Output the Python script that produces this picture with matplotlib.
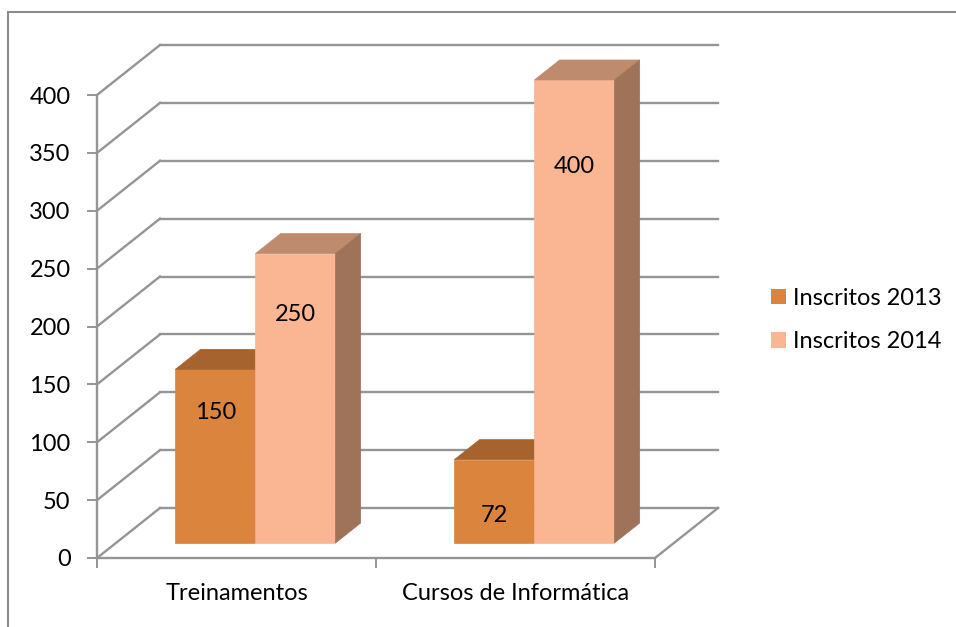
import matplotlib.pyplot as plt
from matplotlib.patches import Polygon, Patch, Rectangle

plt.rcParams["font.family"] = ["Lato", "DejaVu Sans"]

# ---- data ----
categories = ["Treinamentos", "Cursos de Informática"]
series_names = ["Inscritos 2013", "Inscritos 2014"]
inscritos_2013 = [150, 72]
inscritos_2014 = [250, 400]
y_ticks = [0, 50, 100, 150, 200, 250, 300, 350, 400]

# Excel-like 3D palette: front / top / side shades per series
COLORS = {
    "Inscritos 2013": ("#DB843D", "#A6632D", "#9E5E2D"),
    "Inscritos 2014": ("#FAB593", "#BF8B6E", "#9E735A"),
}
GRID = "#959595"
FS = 17

# ---- pseudo-3D projection (depth in fraction of the floor depth) ----
PX_PER_X = 279.0      # pixels per category unit
PX_PER_Y = 1.1575     # pixels per value unit
DX = 63 / PX_PER_X    # full depth shift, horizontal
DY = 50 / PX_PER_Y    # full depth shift, vertical
BAR_W = 0.287
Z0, Z1 = 0.3, 0.7


def proj(x, y, z):
    return x + z * DX, y + z * DY


def draw_bar(ax, x0, h, colors):
    front, top, side = colors
    x1 = x0 + BAR_W
    faces = [
        ([(x0, 0, Z0), (x1, 0, Z0), (x1, h, Z0), (x0, h, Z0)], front),
        ([(x0, h, Z0), (x1, h, Z0), (x1, h, Z1), (x0, h, Z1)], top),
        ([(x1, 0, Z0), (x1, 0, Z1), (x1, h, Z1), (x1, h, Z0)], side),
    ]
    for pts, c in faces:
        ax.add_patch(Polygon([proj(*p) for p in pts], closed=True,
                             facecolor=c, edgecolor=c, linewidth=0.5,
                             zorder=3))


fig = plt.figure(figsize=(9.56, 6.27), dpi=100)
W, H = 956, 627
xmax, ymax = 2.35, 460
ax = fig.add_axes([97 / W, 69 / H, xmax * PX_PER_X / W, ymax * PX_PER_Y / H])
ax.set_xlim(0, xmax)
ax.set_ylim(0, ymax)

n_cat = len(categories)

# walls and floor
for v in y_ticks:
    bx0, by = proj(0, v, 1)
    bx1, _ = proj(n_cat, v, 1)
    ax.plot([0, bx0], [v, by], color=GRID, lw=1.7, zorder=1, clip_on=False)
    ax.plot([bx0, bx1], [by, by], color=GRID, lw=1.7, zorder=1, clip_on=False)
fx, fy = proj(n_cat, 0, 1)
ax.plot([n_cat, fx], [0, fy], color=GRID, lw=1.7, zorder=1, clip_on=False)

# bars
for i in range(n_cat):
    c = i + 0.5
    draw_bar(ax, c - BAR_W, inscritos_2013[i], COLORS[series_names[0]])
    draw_bar(ax, c, inscritos_2014[i], COLORS[series_names[1]])

# value labels on the front faces
for i in range(n_cat):
    c = i + 0.5
    for xc, v in [(c - BAR_W / 2, inscritos_2013[i]), (c + BAR_W / 2, inscritos_2014[i])]:
        ly = v * 0.85 - 15 if v > 100 else v / 3
        lx, lyp = proj(xc, ly, Z0)
        ax.text(lx, lyp, str(v), ha="center", va="center", fontsize=FS,
                color="black", zorder=5)

# axes
for s in ["top", "right"]:
    ax.spines[s].set_visible(False)
ax.spines["left"].set_bounds(0, 400)
ax.spines["bottom"].set_bounds(0, n_cat)
for s in ["left", "bottom"]:
    ax.spines[s].set_color(GRID)
    ax.spines[s].set_linewidth(1.7)
ax.set_yticks(y_ticks)
ax.set_yticklabels([str(t) for t in y_ticks])
ax.tick_params(axis="y", length=7, width=1.4, color=GRID, labelsize=FS, pad=12)
ax.set_xticks(range(n_cat + 1))
ax.set_xticklabels([""] * (n_cat + 1))
ax.tick_params(axis="x", which="major", length=7, width=1.4, color=GRID)
ax.set_xticks([i + 0.5 for i in range(n_cat)], minor=True)
ax.set_xticklabels(categories, minor=True)
ax.tick_params(axis="x", which="minor", length=0, labelsize=FS, pad=18)

# legend
handles = [Patch(facecolor=COLORS[n][0], edgecolor="none", label=n) for n in series_names]
fig.legend(handles=handles, loc="center left", bbox_to_anchor=(771 / W, 1 - 320 / H),
           frameon=False, fontsize=FS, handlelength=0.64, handleheight=0.64,
           handletextpad=0.3, labelspacing=0.95, borderaxespad=0, borderpad=0)

# chart area border (cropped at right and bottom like the source)
fig.add_artist(Rectangle((8 / W, -0.1), 1.2, (H - 12) / H + 0.1,
                         transform=fig.transFigure, fill=False,
                         edgecolor="#8c8c8c", linewidth=1.5))

fig.savefig("out.png", dpi=100)
